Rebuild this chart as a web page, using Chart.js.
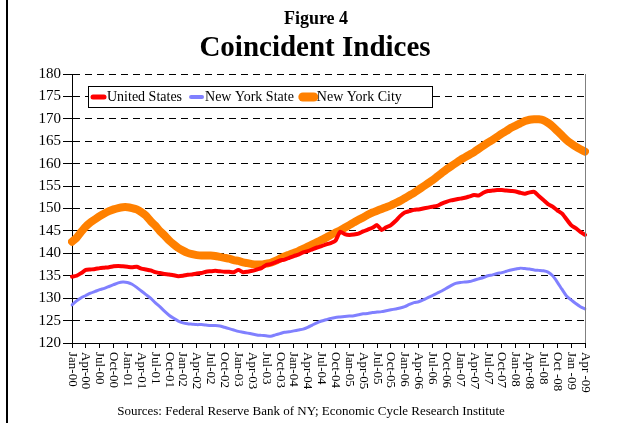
<!DOCTYPE html>
<html>
<head>
<meta charset="utf-8">
<script src="https://cdn.jsdelivr.net/npm/chart.js@4.4.1/dist/chart.umd.min.js"></script>
<style>
  body { margin: 0; background: #fff; }
  canvas { display: block; }
</style>
</head>
<body>
<canvas id="chart" width="617" height="423"></canvas>
<script>
// quarterly tick labels, Jan-00 .. Apr-09 (as printed in the original)
const quarterLabels = [
  "Jan-00", "Apr-00", "Jul-00", "Oct-00", "Jan-01", "Apr-01", "Jul-01", "Oct-01",
  "Jan-02", "Apr-02", "Jul-02", "Oct-02", "Jan-03", "Apr-03", "Jul-03", "Oct-03",
  "Jan-04", "Apr-04", "Jul-04", "Oct-04", "Jan-05", "Apr-05", "Jul-05", "Oct-05",
  "Jan-06", "Apr-06", "Jul-06", "Oct-06", "Jan-07", "Apr-07", "Jul-07", "Oct-07",
  "Jan-08", "Apr-08", "Jul-08", "Oct -08", "Jan -09", "Apr -09"
];

// monthly values, Jan-2000 .. Apr-2009
const unitedStates = [
  134.8, 135.0, 135.6, 136.3, 136.4, 136.5, 136.7, 136.8, 136.9, 137.1, 137.2, 137.1,
  137.0, 136.9, 137.0, 136.6, 136.4, 136.2, 135.8, 135.6, 135.4, 135.3, 135.1, 134.9,
  135.0, 135.2, 135.3, 135.5, 135.6, 135.9, 136.0, 136.1, 136.0, 135.9, 135.9, 135.8,
  136.3, 135.8, 135.9, 136.1, 136.4, 136.7, 137.4, 137.6, 138.0, 138.4, 138.6, 139.0,
  139.4, 139.7, 140.2, 140.5, 140.9, 141.3, 141.6, 142.0, 142.3, 142.8, 144.8, 144.3,
  144.1, 144.2, 144.4, 144.9, 145.3, 145.7, 146.3, 145.2, 145.8, 146.3, 147.2, 148.3,
  149.1, 149.4, 149.7, 149.8, 150.0, 150.2, 150.4, 150.6, 151.1, 151.5, 151.8, 152.0,
  152.2, 152.4, 152.7, 153.0, 152.9, 153.5, 153.9, 154.0, 154.1, 154.1, 154.0, 153.9,
  153.8, 153.5, 153.3, 153.6, 153.7, 152.8, 151.9, 151.0, 150.4, 149.6, 148.9, 147.6,
  146.3, 145.6, 144.8, 144.1
];
const newYorkState = [
  128.5, 129.4, 130.1, 130.6, 131.1, 131.5, 131.9, 132.2, 132.6, 133.0, 133.4, 133.6,
  133.5, 133.1, 132.4, 131.6, 130.8, 130.0, 129.0, 128.1, 127.1, 126.2, 125.5, 124.9,
  124.5, 124.3, 124.2, 124.1, 124.1, 124.0, 123.9, 123.9, 123.8, 123.5, 123.2, 122.9,
  122.6, 122.4, 122.2, 122.0, 121.8, 121.7, 121.6, 121.5, 121.8, 122.1, 122.4, 122.5,
  122.7, 122.9, 123.1, 123.5, 124.0, 124.5, 124.9, 125.2, 125.5, 125.7, 125.8, 125.9,
  126.0, 126.1, 126.3, 126.5, 126.6, 126.8, 126.9, 127.0, 127.2, 127.4, 127.6, 127.8,
  128.1, 128.6, 129.0, 129.2, 129.6, 130.1, 130.6, 131.1, 131.6, 132.2, 132.8, 133.3,
  133.5, 133.6, 133.7, 134.0, 134.3, 134.6, 135.0, 135.2, 135.5, 135.7, 136.0, 136.3,
  136.5, 136.7, 136.6, 136.5, 136.3, 136.2, 136.1, 135.8, 135.0, 133.6, 132.0, 130.5,
  129.6, 128.8, 128.1, 127.6
];
const newYorkCity = [
  142.6, 143.5, 144.8, 146.0, 146.9, 147.6, 148.3, 148.9, 149.4, 149.8, 150.1, 150.3,
  150.3, 150.1, 149.8, 149.2, 148.4, 147.2, 146.2, 145.0, 144.0, 142.9, 142.0, 141.2,
  140.6, 140.1, 139.8, 139.6, 139.5, 139.5, 139.5, 139.4, 139.2, 139.0, 138.8, 138.5,
  138.3, 138.0, 137.8, 137.6, 137.5, 137.5, 137.7, 137.9, 138.3, 138.8, 139.3, 139.7,
  140.1, 140.5, 141.0, 141.5, 142.0, 142.5, 143.0, 143.5, 144.1, 144.6, 145.1, 145.7,
  146.3, 146.9, 147.5, 148.0, 148.6, 149.1, 149.5, 149.9, 150.3, 150.7, 151.2, 151.7,
  152.3, 152.9, 153.5, 154.2, 154.9, 155.6, 156.3, 157.1, 157.9, 158.7, 159.4, 160.1,
  160.8, 161.4, 162.0, 162.6, 163.3, 164.0, 164.7, 165.3, 166.0, 166.7, 167.3, 168.0,
  168.5, 169.0, 169.5, 169.8, 169.9, 169.9, 169.7, 169.1, 168.3, 167.3, 166.3, 165.3,
  164.5, 163.8, 163.2, 162.7
];

const monthNames = ["Jan", "Feb", "Mar", "Apr", "May", "Jun", "Jul", "Aug", "Sep", "Oct", "Nov", "Dec"];
const months = unitedStates.map((v, i) =>
  monthNames[i % 12] + "-" + String(Math.floor(i / 12)).padStart(2, "0"));

const SERIF = "'Liberation Serif', 'Times New Roman', serif";

const decorations = {
  id: "decorations",
  afterDraw(chart) {
    const ctx = chart.ctx;
    const area = chart.chartArea;
    const xs = chart.scales.x;
    ctx.save();

    // outer frame line at the left
    ctx.strokeStyle = "#000";
    ctx.lineWidth = 2;
    ctx.beginPath();
    ctx.moveTo(7, 0);
    ctx.lineTo(7, 423);
    ctx.stroke();

    // right border of the plot
    ctx.strokeStyle = "#808080";
    ctx.lineWidth = 1;
    ctx.beginPath();
    ctx.moveTo(area.right + 0.5, area.top);
    ctx.lineTo(area.right + 0.5, area.bottom);
    ctx.stroke();

    // titles
    ctx.fillStyle = "#000";
    ctx.textAlign = "center";
    ctx.textBaseline = "alphabetic";
    ctx.font = "bold 18px " + SERIF;
    ctx.fillText("Figure 4", 316, 24);
    ctx.font = "bold 29px " + SERIF;
    ctx.fillText("Coincident Indices", 315, 56);

    // source line
    ctx.font = "13px " + SERIF;
    ctx.fillText("Sources: Federal Reserve Bank of NY; Economic Cycle Research Institute", 311, 415);

    // x tick labels, rotated clockwise
    ctx.font = "13px " + SERIF;
    ctx.textAlign = "left";
    ctx.textBaseline = "middle";
    xs.ticks.forEach((t, i) => {
      const x = xs.getPixelForTick(i);
      ctx.save();
      ctx.translate(x, area.bottom + 9);
      ctx.rotate(Math.PI / 2);
      ctx.fillText(quarterLabels[t.value / 3], 0, 0);
      ctx.restore();
    });

    // legend box
    ctx.fillStyle = "#fff";
    ctx.fillRect(88, 86, 344, 21);
    ctx.strokeStyle = "#000";
    ctx.lineWidth = 1;
    ctx.strokeRect(88.5, 86.5, 344, 21);
    ctx.font = "14px " + SERIF;
    ctx.textBaseline = "middle";
    let lx = 91;
    chart.data.datasets.forEach(ds => {
      ctx.strokeStyle = ds.borderColor;
      ctx.lineWidth = ds.borderWidth + 1;
      ctx.lineCap = "round";
      ctx.beginPath();
      ctx.moveTo(lx + 2, 97);
      ctx.lineTo(lx + 13, 97);
      ctx.stroke();
      ctx.fillStyle = "#000";
      ctx.fillText(ds.label, lx + 16, 97.5);
      lx += 16 + ctx.measureText(ds.label).width + 7;
    });
    ctx.restore();
  }
};

new Chart(document.getElementById("chart"), {
  type: "line",
  data: {
    labels: months,
    datasets: [
      { label: "United States", data: unitedStates, borderColor: "#ff0000", borderWidth: 4 },
      { label: "New York State", data: newYorkState, borderColor: "#8080ff", borderWidth: 3 },
      { label: "New York City", data: newYorkCity, borderColor: "#ff8000", borderWidth: 8 }
    ]
  },
  options: {
    responsive: false,
    animation: false,
    layout: { padding: { left: 0, right: 32, top: 74, bottom: 0 } },
    elements: {
      point: { radius: 0 },
      line: { tension: 0.2, borderCapStyle: "round", borderJoinStyle: "round", fill: false }
    },
    plugins: {
      legend: { display: false },
      title: { display: false },
      tooltip: { enabled: false }
    },
    scales: {
      x: {
        type: "category",
        offset: false,
        afterBuildTicks: s => { s.ticks = s.ticks.filter(t => t.value % 3 === 0); },
        afterFit: s => { s.height = 80; },
        ticks: { display: false, autoSkip: false },
        grid: { drawOnChartArea: false, drawTicks: true, tickLength: 5, tickColor: "#000", tickWidth: 1 },
        border: { display: true, color: "#000", width: 1 }
      },
      y: {
        min: 120,
        max: 180,
        afterFit: s => { s.width = 72; },
        ticks: {
          stepSize: 5,
          padding: 2,
          color: "#000",
          font: { family: SERIF, size: 15 }
        },
        grid: {
          color: "#000",
          lineWidth: 1,
          tickLength: 9,
          tickColor: "#000",
          tickBorderDash: [],
          drawTicks: true
        },
        border: { display: true, color: "#000", width: 1, dash: [7, 5] }
      }
    }
  },
  plugins: [decorations]
});
</script>
</body>
</html>
